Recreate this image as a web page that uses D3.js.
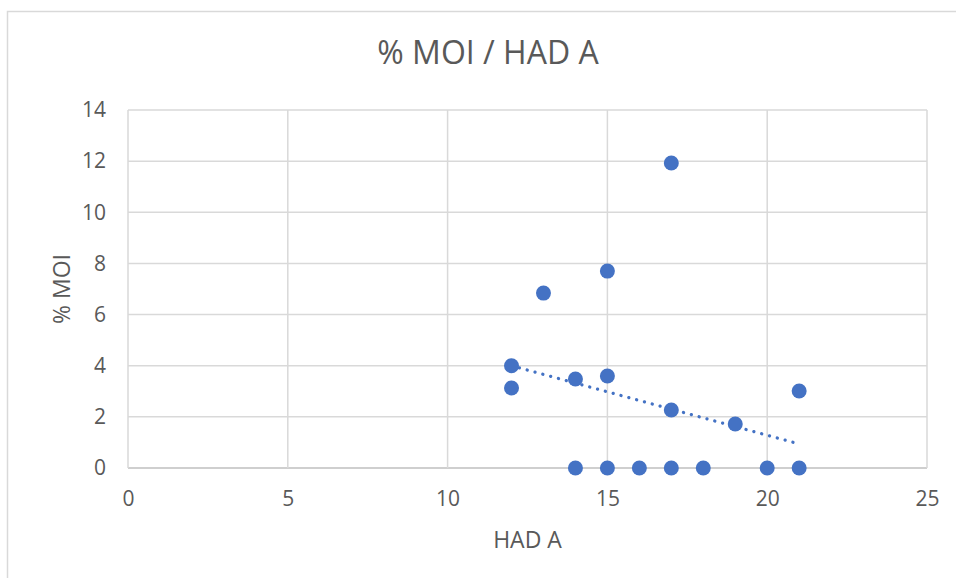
<!DOCTYPE html>
<html>
<head>
<meta charset="utf-8">
<script src="https://cdn.jsdelivr.net/npm/d3@7"></script>
<style>
  html, body { margin: 0; padding: 0; background: #fff; }
  svg { display: block; font-family: "Open Sans", "Noto Sans", sans-serif; }
</style>
</head>
<body>
<svg id="chart" width="956" height="578"></svg>
<script>
// ---- data ----
const hadA = [12, 12, 13, 14, 14, 15, 15, 15, 16, 17, 17, 17, 18, 19, 20, 21, 21];
const moi  = [4.0, 3.13, 6.84, 3.48, 0, 7.7, 3.6, 0, 0, 11.93, 2.27, 0, 0, 1.72, 0, 3.01, 0];
const trendX = [12, 21];
const trendY = [4.0, 0.94];
const xTicks = [0, 5, 10, 15, 20, 25];
const yTicks = [0, 2, 4, 6, 8, 10, 12, 14];
const titleText = "% MOI / HAD A";
const xTitle = "HAD A";
const yTitle = "% MOI";

// ---- layout ----
const svg = d3.select("#chart");
const W = 956, H = 578;
const pL = 128, pR = 927, pT = 110, pB = 468;
const grid = "#d9d9d9", textCol = "#595959", blue = "#4472C4";
const ff = "'Open Sans', 'Noto Sans', sans-serif";

// chart border (cropped on right & bottom)
svg.append("rect").attr("x", 7.5).attr("y", 11.5).attr("width", W + 10).attr("height", H + 10)
  .attr("fill", "#fff").attr("stroke", grid).attr("stroke-width", 1.5);

const x = d3.scaleLinear().domain([0, 25]).range([pL, pR]);
const y = d3.scaleLinear().domain([0, 14]).range([pB, pT]);

// gridlines
svg.append("g").selectAll("line").data(yTicks).join("line")
  .attr("x1", pL).attr("x2", pR)
  .attr("y1", d => y(d)).attr("y2", d => y(d))
  .attr("stroke", d => d === 0 ? "#bfbfbf" : grid).attr("stroke-width", 1.5);
svg.append("g").selectAll("line").data(xTicks).join("line")
  .attr("y1", pT).attr("y2", pB)
  .attr("x1", d => x(d)).attr("x2", d => x(d))
  .attr("stroke", grid).attr("stroke-width", 1.5);

// axes (labels only)
const xAxis = svg.append("g").attr("transform", `translate(0,${pB})`)
  .call(d3.axisBottom(x).tickValues(xTicks).tickSize(0).tickPadding(23));
xAxis.select(".domain").remove();
xAxis.selectAll("text").attr("fill", textCol).style("font-size", "21px").style("font-family", ff);

const yAxis = svg.append("g").attr("transform", `translate(${pL},0)`)
  .call(d3.axisLeft(y).tickValues(yTicks).tickSize(0).tickPadding(22));
yAxis.select(".domain").remove();
yAxis.selectAll("text").attr("fill", textCol).style("font-size", "21px").style("font-family", ff);

// trendline
svg.append("path")
  .datum(trendX.map((d, i) => [d, trendY[i]]))
  .attr("d", d3.line().x(d => x(d[0])).y(d => y(d[1])))
  .attr("fill", "none").attr("stroke", blue).attr("stroke-width", 3.2)
  .attr("stroke-linecap", "round").attr("stroke-dasharray", "0.1 8");

// points
svg.append("g").selectAll("circle").data(hadA.map((d, i) => [d, moi[i]])).join("circle")
  .attr("cx", d => x(d[0])).attr("cy", d => y(d[1])).attr("r", 7.5)
  .attr("fill", blue);

// titles
svg.append("text").attr("x", 488).attr("y", 64).attr("text-anchor", "middle")
  .attr("fill", textCol).style("font-size", "32px").style("font-family", ff).text(titleText);
svg.append("text").attr("x", (pL + pR) / 2).attr("y", 548).attr("text-anchor", "middle")
  .attr("fill", textCol).style("font-size", "23px").style("font-family", ff).text(xTitle);
svg.append("text").attr("transform", `translate(70,${(pT + pB) / 2}) rotate(-90)`)
  .attr("text-anchor", "middle").attr("fill", textCol).style("font-size", "23px").style("font-family", ff).text(yTitle);
</script>
</body>
</html>
